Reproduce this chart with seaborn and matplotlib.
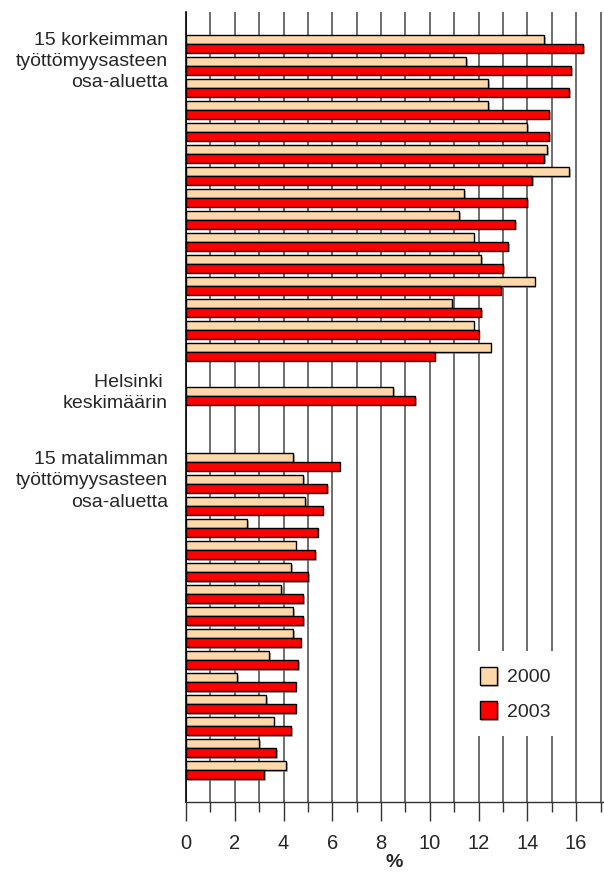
import matplotlib
matplotlib.use("Agg")
import matplotlib.pyplot as plt
import matplotlib.patheffects as pe
import matplotlib.transforms as mtransforms
import numpy as np
import pandas as pd
import seaborn as sns

sns.set_style("white")
plt.rcParams["font.family"] = ["Liberation Sans", "DejaVu Sans"]

# --- data: unemployment rate (%) by sub-area, 2000 vs 2003 ---
korkein_2000 = [14.7, 11.5, 12.4, 12.4, 14.0, 14.8, 15.7, 11.4,
                11.2, 11.8, 12.1, 14.3, 10.9, 11.8, 12.5]
korkein_2003 = [16.3, 15.8, 15.7, 14.9, 14.9, 14.7, 14.2, 14.0,
                13.5, 13.2, 13.0, 12.9, 12.1, 12.0, 10.2]
helsinki_2000 = [8.5]
helsinki_2003 = [9.4]
matalin_2000 = [4.4, 4.8, 4.9, 2.5, 4.5, 4.3, 3.9, 4.4,
                4.4, 3.4, 2.1, 3.3, 3.6, 3.0, 4.1]
matalin_2003 = [6.3, 5.8, 5.6, 5.4, 5.3, 5.0, 4.8, 4.8,
                4.7, 4.6, 4.5, 4.5, 4.3, 3.7, 3.2]
vuodet = ["2000", "2003"]
varit = {"2000": "#FFD8AA", "2003": "#FF0000"}

# row names, with empty slots as gaps between the groups
rivit_k = [f"k{i}" for i in range(1, 16)]
rivit_h = ["hki"]
rivit_m = [f"m{i}" for i in range(1, 16)]
order = rivit_k + ["_v1"] + rivit_h + ["_v2", "_v3"] + rivit_m

rows = []
for nimet, a, b in [(rivit_k, korkein_2000, korkein_2003),
                    (rivit_h, helsinki_2000, helsinki_2003),
                    (rivit_m, matalin_2000, matalin_2003)]:
    for n, v0, v3 in zip(nimet, a, b):
        rows.append({"rivi": n, "vuosi": "2000", "arvo": v0})
        rows.append({"rivi": n, "vuosi": "2003", "arvo": v3})
df = pd.DataFrame(rows)

fig = plt.figure(figsize=(6.04, 8.72), dpi=100)
ax = fig.add_axes([186 / 604, 1 - 802 / 872, 417 / 604, 790 / 872])

sns.barplot(data=df, y="rivi", x="arvo", hue="vuosi", order=order,
            hue_order=vuodet, palette=varit, orient="h", width=0.8,
            edgecolor="black", linewidth=1.0, saturation=1, ax=ax)

for p in ax.patches:
    p.set_path_effects([pe.SimplePatchShadow(offset=(1.2, -1.2), shadow_rgbFace="#888888", alpha=0.6),
                        pe.Normal()])

ax.set_xlim(0, 17.1)
ax.set_ylim(len(order) - 1 + 1.45, -1.45)

ax.set_xticks(np.arange(0, 17, 2))
ax.set_xticks(np.arange(1, 18, 2), minor=True)
ax.tick_params(axis="x", which="major", length=14, width=1, color="#333333",
               direction="out", labelsize=14.5, pad=9, bottom=True)
ax.tick_params(axis="x", which="minor", length=7, width=1, color="#333333",
               direction="out", bottom=True)
ax.grid(axis="x", which="both", color="#555555", linewidth=1.2, zorder=0)
ax.set_axisbelow(True)
ax.set_yticks([])
ax.set_ylabel("")
ax.set_xlabel("%", fontsize=14, fontweight="bold", labelpad=1)

for s in ["top", "right"]:
    ax.spines[s].set_visible(False)
ax.spines["left"].set_color("black")
ax.spines["bottom"].set_color("#333333")
ax.spines["left"].set_linewidth(1.2)
ax.spines["bottom"].set_linewidth(1.0)

# group labels on the left
trans = mtransforms.blended_transform_factory(ax.transAxes, ax.transData)
ryhmat = [("15 korkeimman\ntyöttömyysasteen\nosa-aluetta", 0.8),
          ("Helsinki \nkeskimäärin", 15.86),
          ("15 matalimman\ntyöttömyysasteen\nosa-aluetta", 19.85)]
for teksti, y in ryhmat:
    ax.text(-0.043, y, teksti, transform=trans, ha="right", va="center",
            fontsize=14, linespacing=1.33)

leg = ax.legend(loc="center", bbox_to_anchor=(0.789, 0.137), fontsize=14,
                frameon=True, fancybox=False, framealpha=1, edgecolor="white",
                handlelength=0.9, handleheight=1.05, handletextpad=0.5,
                labelspacing=0.75, borderpad=0.8, title=None)
leg.get_frame().set_linewidth(0)
leg.set_zorder(5)

fig.savefig("out.png", dpi=100)
